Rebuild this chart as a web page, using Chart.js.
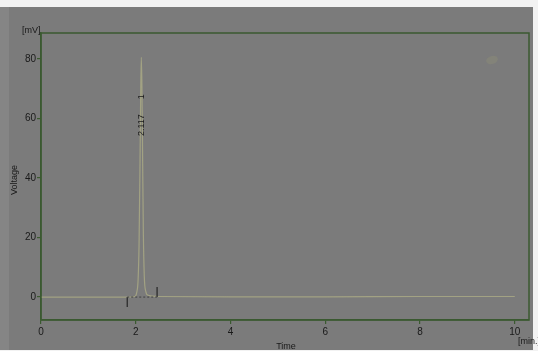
<!DOCTYPE html>
<html>
<head>
<meta charset="utf-8">
<script src="https://cdn.jsdelivr.net/npm/chart.js@4"></script>
<style>
    html, body { margin: 0; padding: 0; background: #ffffff; overflow: hidden; }
</style>
</head>
<body>
<canvas id="chrom" width="538" height="351"></canvas>
<script>
// Chromatogram samples (time in min, voltage in mV)
const times = [0, 1.0, 1.8, 1.98, 2.02, 2.05, 2.07, 2.09, 2.105, 2.117, 2.13, 2.145, 2.16, 2.18, 2.21, 2.26, 2.45, 4.0, 6.0, 8.0, 10.0];
const voltages = [0, 0, 0, 0.2, 1.5, 6, 18, 45, 70, 80.5, 71, 46, 22, 7, 2, 0.6, 0.2, 0.1, 0.1, 0.2, 0.2];

// Axis ticks
const xTicks = [0, 2, 4, 6, 8, 10];
const yTicks = [0, 20, 40, 60, 80];

// Peak annotation
const peakTime = 2.117;
const peakNumber = 1;
const integStart = 1.82;
const integEnd = 2.45;

const colors = {
    page: "#858585",
    panel: "#7b7b7b",
    frame: "#3b5a30",
    trace: "#a2a283",
    text: "#191919"
};

const points = times.map((t, i) => ({ x: t, y: voltages[i] }));

// Background, frame, annotations and axis titles
const decorPlugin = {
    id: "decor",
    beforeDraw(chart) {
        const ctx = chart.ctx;
        ctx.save();
        ctx.fillStyle = "#f2f2f2";
        ctx.fillRect(0, 0, chart.width, chart.height);
        ctx.fillStyle = colors.page;
        ctx.fillRect(0, 7, 533, 343);
        ctx.fillStyle = colors.panel;
        ctx.fillRect(9, 7, 524, 343);
        ctx.restore();
    },
    afterDraw(chart) {
        const ctx = chart.ctx;
        const area = chart.chartArea;
        const xs = chart.scales.x;
        const ys = chart.scales.y;
        ctx.save();

        // plot frame
        ctx.strokeStyle = colors.frame;
        ctx.lineWidth = 1.5;
        ctx.strokeRect(area.left, area.top, area.right - area.left, area.bottom - area.top);

        // integration baseline markers
        const x0 = xs.getPixelForValue(integStart);
        const x1 = xs.getPixelForValue(integEnd);
        const yb = ys.getPixelForValue(0);
        ctx.strokeStyle = "#262626";
        ctx.lineWidth = 1.2;
        ctx.beginPath();
        ctx.moveTo(x0, yb + 10);
        ctx.lineTo(x0, yb);
        ctx.moveTo(x1, yb - 10);
        ctx.lineTo(x1, yb);
        ctx.stroke();
        ctx.setLineDash([2, 2]);
        ctx.strokeStyle = "#4a4a4a";
        ctx.beginPath();
        ctx.moveTo(x0, yb);
        ctx.lineTo(x1, yb);
        ctx.stroke();
        ctx.setLineDash([]);

        // peak label
        const px = xs.getPixelForValue(peakTime);
        ctx.fillStyle = colors.text;
        ctx.font = "9px 'Liberation Sans', Arial, sans-serif";
        ctx.translate(px, 136);
        ctx.rotate(-Math.PI / 2);
        ctx.textAlign = "left";
        ctx.textBaseline = "middle";
        ctx.fillText(peakTime.toFixed(3) + "      " + peakNumber, 0, 0);
        ctx.setTransform(1, 0, 0, 1, 0, 0);

        // faint legend blob
        ctx.fillStyle = "rgba(165,165,115,0.2)";
        ctx.beginPath();
        ctx.ellipse(492, 60, 6, 4, -0.3, 0, Math.PI * 2);
        ctx.fill();

        // axis titles
        ctx.fillStyle = colors.text;
        ctx.font = "9px 'Liberation Sans', Arial, sans-serif";
        ctx.textBaseline = "middle";
        ctx.textAlign = "left";
        ctx.fillText("[mV]", 22, 31);
        ctx.fillText("[min.]", 518, 342);
        ctx.textAlign = "center";
        ctx.fillText("Time", 286, 347);
        ctx.translate(15, 180);
        ctx.rotate(-Math.PI / 2);
        ctx.fillText("Voltage", 0, 0);
        ctx.restore();
    }
};

const canvas = document.getElementById("chrom");
const chart = new Chart(canvas.getContext("2d"), {
    type: "line",
    data: {
        datasets: [
            {
                label: "Voltage",
                data: points,
                borderColor: colors.trace,
                borderWidth: 1.2,
                pointRadius: 0,
                cubicInterpolationMode: "monotone",
                fill: false
            }
        ]
    },
    options: {
        responsive: false,
        animation: false,
        devicePixelRatio: 1,
        layout: {
            padding: { top: 33, right: 9, left: 0, bottom: 0 }
        },
        plugins: {
            legend: { display: false },
            tooltip: { enabled: false }
        },
        scales: {
            x: {
                type: "linear",
                min: 0,
                max: 10.3,
                afterBuildTicks: function(scale) {
                    scale.ticks = xTicks.map(v => ({ value: v }));
                },
                afterFit: function(scale) {
                    scale.height = 31;
                },
                grid: {
                    drawOnChartArea: false,
                    color: colors.frame,
                    tickLength: 4,
                    lineWidth: 1.2
                },
                border: { color: colors.frame, width: 1.5 },
                ticks: {
                    color: colors.text,
                    padding: 2,
                    maxRotation: 0,
                    font: { family: "'Liberation Sans', Arial, sans-serif", size: 10 }
                }
            },
            y: {
                type: "linear",
                min: -7.7,
                max: 88.7,
                afterBuildTicks: function(scale) {
                    scale.ticks = yTicks.map(v => ({ value: v }));
                },
                afterFit: function(scale) {
                    scale.width = 41;
                },
                grid: {
                    drawOnChartArea: false,
                    color: colors.frame,
                    tickLength: 4,
                    lineWidth: 1.2
                },
                border: { color: colors.frame, width: 1.5 },
                ticks: {
                    color: colors.text,
                    padding: 1,
                    font: { family: "'Liberation Sans', Arial, sans-serif", size: 10 }
                }
            }
        }
    },
    plugins: [decorPlugin]
});
</script>
</body>
</html>
